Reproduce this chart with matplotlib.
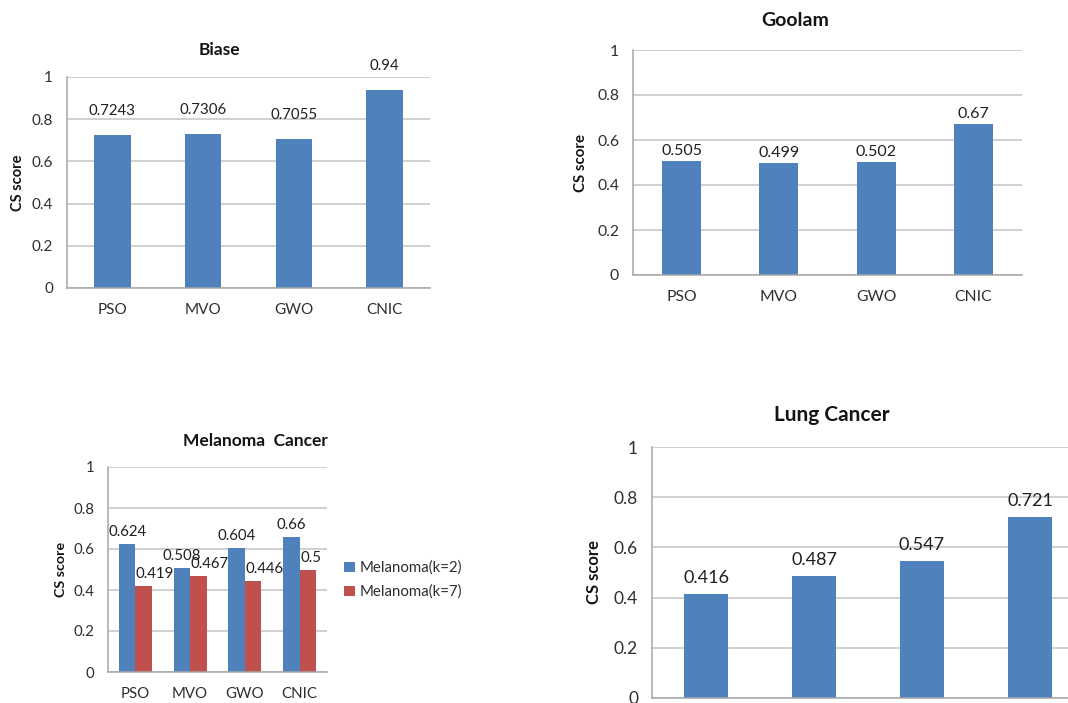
import matplotlib

matplotlib.use("Agg")
import matplotlib.pyplot as plt
import numpy as np

plt.rcParams["font.family"] = ["Lato", "DejaVu Sans"]

methods = ["PSO", "MVO", "GWO", "CNIC"]
biase = [0.7243, 0.7306, 0.7055, 0.94]
goolam = [0.505, 0.499, 0.502, 0.67]
melanoma_k2 = [0.624, 0.508, 0.604, 0.66]
melanoma_k7 = [0.419, 0.467, 0.446, 0.5]
lung = [0.416, 0.487, 0.547, 0.721]
series_names = ["Melanoma(k=2)", "Melanoma(k=7)"]
yticks = [0, 0.2, 0.4, 0.6, 0.8, 1]
ytick_labels = ["0", "0.2", "0.4", "0.6", "0.8", "1"]

BLUE = "#4f81bd"
RED = "#c0504d"
GRID = "#c4c4c4"
TXT = "#2e2e2e"

W, H = 1068, 703
fig = plt.figure(figsize=(W / 100, H / 100), dpi=100)


def px_axes(left, top, right, bottom):
    # axes box given in pixel edges (origin top-left)
    return fig.add_axes([left / W, 1 - bottom / H, (right - left) / W, (bottom - top) / H])


def style(ax, fs, label_x_px, width_px, xlabels=True):
    ax.set_ylim(0, 1)
    ax.set_xlim(-0.5, 3.5)
    ax.set_yticks(yticks)
    ax.set_yticklabels(ytick_labels)
    ax.set_xticks(np.arange(len(methods)))
    ax.set_xticklabels(methods if xlabels else [])
    ax.yaxis.grid(True, color=GRID, linewidth=1.1)
    ax.set_axisbelow(True)
    for side in ("top", "right"):
        ax.spines[side].set_visible(False)
    for side in ("left", "bottom"):
        ax.spines[side].set_color("#a6a6a6")
        ax.spines[side].set_linewidth(1.1)
    ax.tick_params(axis="y", length=0, pad=10, labelsize=fs, labelcolor=TXT)
    ax.tick_params(axis="x", length=0, pad=11, labelsize=fs, labelcolor=TXT)
    ax.set_ylabel("CS score", fontsize=fs - 0.5, fontweight="bold", color="#141414")
    ax.yaxis.set_label_coords(label_x_px / width_px, 0.5)


def title_at(text, cx, cy, fs):
    # chart titles sit centred on the whole chart area, not on the plot box
    fig.text(cx / W, 1 - cy / H, text, ha="center", va="center",
             fontsize=fs, fontweight="bold", color="#141414")


def value_labels(ax, xs, vals, fs, offset_px, ha="center"):
    for x, v in zip(xs, vals):
        ax.annotate(f"{v:g}", (x, v), xytext=(0, offset_px / 1.389),
                    textcoords="offset points", ha=ha, va="bottom",
                    fontsize=fs, color="#1f1f1f")


x = np.arange(len(methods))

# Biase
ax1 = px_axes(67, 77, 430, 288)
ax1.bar(x, biase, width=0.4, color=BLUE)
style(ax1, 11, -42, 363)
title_at("Biase", 219, 50, 12.5)
value_labels(ax1, x, biase, 10.8, 17)

# Goolam
ax2 = px_axes(633, 50, 1022, 275)
ax2.bar(x, goolam, width=0.4, color=BLUE)
style(ax2, 11.3, -45, 389)
title_at("Goolam", 795, 20, 14)
value_labels(ax2, x, goolam, 11.5, 3)

# Melanoma Cancer, two k settings side by side
ax3 = px_axes(108, 467, 327, 672)
ax3.bar(x - 0.15, melanoma_k2, width=0.3, color=BLUE, label=series_names[0])
ax3.bar(x + 0.15, melanoma_k7, width=0.3, color=RED, label=series_names[1])
style(ax3, 10.8, -41, 219)
title_at("Melanoma  Cancer", 255, 441, 12.5)
value_labels(ax3, x - 0.15, melanoma_k2, 10.8, 5)
# k=7 labels start at the left edge of their bars
value_labels(ax3, x + 0.01, melanoma_k7, 10.8, 5, ha="left")
ax3.legend(loc="center left", bbox_to_anchor=(344 / W, 1 - 580 / H),
           bbox_transform=fig.transFigure, frameon=False, fontsize=10.8,
           borderpad=0, borderaxespad=0,
           handlelength=0.7, handleheight=0.7, handletextpad=0.35,
           labelspacing=0.65, labelcolor=TXT)

# Lung Cancer (axes runs past the right edge)
ax4 = px_axes(652, 447, 1084, 698)
ax4.bar(x, lung, width=0.4, color=BLUE)
style(ax4, 12.5, -50, 432, xlabels=False)
title_at("Lung Cancer", 832, 415, 15)
value_labels(ax4, x, lung, 13, 8)

fig.savefig("out.png", dpi=100)
